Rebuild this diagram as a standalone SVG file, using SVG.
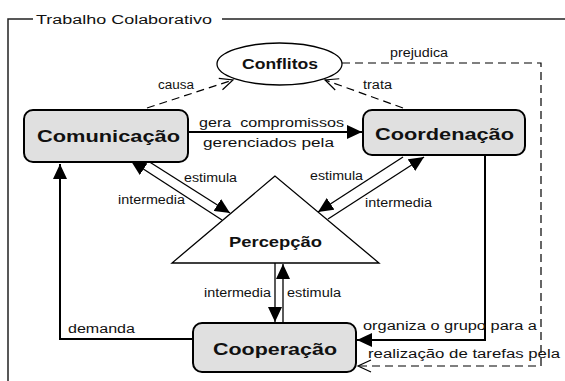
<svg xmlns="http://www.w3.org/2000/svg" width="565" height="381" viewBox="0 0 565 381">
<defs>
<style>
.lbl{font-family:"Liberation Sans",Arial,sans-serif;font-size:12px;fill:#111}
.big{font-family:"Liberation Sans",Arial,sans-serif;font-weight:bold;fill:#111}
.box{fill:#e0e0e0;stroke:#000;stroke-width:2}
.ln{fill:none;stroke:#000;stroke-width:1.3}
.thick{fill:none;stroke:#000;stroke-width:2}
.dash{fill:none;stroke:#000;stroke-width:1.2;stroke-dasharray:8 5}
</style>
<marker id="fa" markerUnits="userSpaceOnUse" markerWidth="16" markerHeight="14" viewBox="0 0 16 14" refX="15" refY="7" orient="auto">
<path d="M0,0 L15,7 L0,14 z" fill="#000"/>
</marker>
<marker id="oa" markerUnits="userSpaceOnUse" markerWidth="16" markerHeight="14" viewBox="0 0 16 14" refX="14" refY="7" orient="auto">
<path d="M1,1 L14,7 L1,13" fill="none" stroke="#000" stroke-width="1.2"/>
</marker>
</defs>
<rect width="565" height="381" fill="#fff"/>
<g id="frame">
<path d="M33,19 H8 V381 M222,19 H565" fill="none" stroke="#222" stroke-width="1.5"/>
<text class="lbl" x="36" y="24" font-size="13" textLength="176" lengthAdjust="spacingAndGlyphs">Trabalho Colaborativo</text>
</g>
<g id="connectors">
<path class="dash" d="M147,108 L233,80" marker-end="url(#oa)"/>
<path class="dash" d="M403,108 L325,80" marker-end="url(#oa)"/>
<path class="dash" d="M342,63 H541 V366 H358" marker-end="url(#oa)"/>
<path class="thick" d="M188,132 H362" marker-end="url(#fa)"/>
<path class="ln" d="M148,161 L230,213" marker-end="url(#fa)"/>
<path class="ln" d="M222,220 L131,161" marker-end="url(#fa)"/>
<path class="ln" d="M403,157 L318,212" marker-end="url(#fa)"/>
<path class="ln" d="M328,219 L424,157" marker-end="url(#fa)"/>
<path class="ln" d="M275,263 V322" marker-end="url(#fa)"/>
<path class="ln" d="M283,323 V264" marker-end="url(#fa)"/>
<path class="thick" d="M193,339 H60 V164" marker-end="url(#fa)"/>
<path class="thick" d="M485,156 V340 H357" marker-end="url(#fa)"/>
<text class="lbl" x="158" y="89" textLength="36" lengthAdjust="spacingAndGlyphs">causa</text>
<text class="lbl" x="363" y="89" textLength="29" lengthAdjust="spacingAndGlyphs">trata</text>
<text class="lbl" x="390" y="57" textLength="58" lengthAdjust="spacingAndGlyphs">prejudica</text>
<text class="lbl" x="199" y="127" textLength="145" lengthAdjust="spacingAndGlyphs" xml:space="preserve">gera  compromissos</text>
<text class="lbl" x="203" y="147" textLength="131" lengthAdjust="spacingAndGlyphs">gerenciados pela</text>
<text class="lbl" x="184" y="182" textLength="53" lengthAdjust="spacingAndGlyphs">estimula</text>
<text class="lbl" x="118" y="204" textLength="67" lengthAdjust="spacingAndGlyphs">intermedia</text>
<text class="lbl" x="310" y="180" textLength="53" lengthAdjust="spacingAndGlyphs">estimula</text>
<text class="lbl" x="365" y="207" textLength="67" lengthAdjust="spacingAndGlyphs">intermedia</text>
<text class="lbl" x="204" y="297" textLength="67" lengthAdjust="spacingAndGlyphs">intermedia</text>
<text class="lbl" x="287" y="297" textLength="54" lengthAdjust="spacingAndGlyphs">estimula</text>
<text class="lbl" x="68" y="333" textLength="67" lengthAdjust="spacingAndGlyphs">demanda</text>
<text class="lbl" x="363" y="330" textLength="174" lengthAdjust="spacingAndGlyphs">organiza o grupo para a</text>
<text class="lbl" x="368" y="358" textLength="192" lengthAdjust="spacingAndGlyphs">realização de tarefas pela</text>
</g>
<g id="conflitos">
<ellipse cx="279.5" cy="64" rx="62.5" ry="21" fill="#fff" stroke="#000" stroke-width="1.3"/>
<text class="big" x="242" y="69" font-size="15" textLength="76" lengthAdjust="spacingAndGlyphs">Conflitos</text>
</g>
<g id="comunicacao">
<rect class="box" x="24" y="110" width="164" height="52" rx="9"/>
<text class="big" x="37" y="142" font-size="17" textLength="143" lengthAdjust="spacingAndGlyphs">Comunicação</text>
</g>
<g id="coordenacao">
<rect class="box" x="363" y="110" width="162" height="45" rx="9"/>
<text class="big" x="375" y="140" font-size="17" textLength="139" lengthAdjust="spacingAndGlyphs">Coordenação</text>
</g>
<g id="percepcao">
<path d="M275,176 L172,263 L379,263 z" fill="#fff" stroke="#000" stroke-width="1.3"/>
<text class="big" x="229" y="247" font-size="15" textLength="93" lengthAdjust="spacingAndGlyphs">Percepção</text>
</g>
<g id="cooperacao">
<rect class="box" x="193" y="323" width="163" height="49" rx="9"/>
<text class="big" x="213" y="355" font-size="17" textLength="124" lengthAdjust="spacingAndGlyphs">Cooperação</text>
</g>
</svg>
